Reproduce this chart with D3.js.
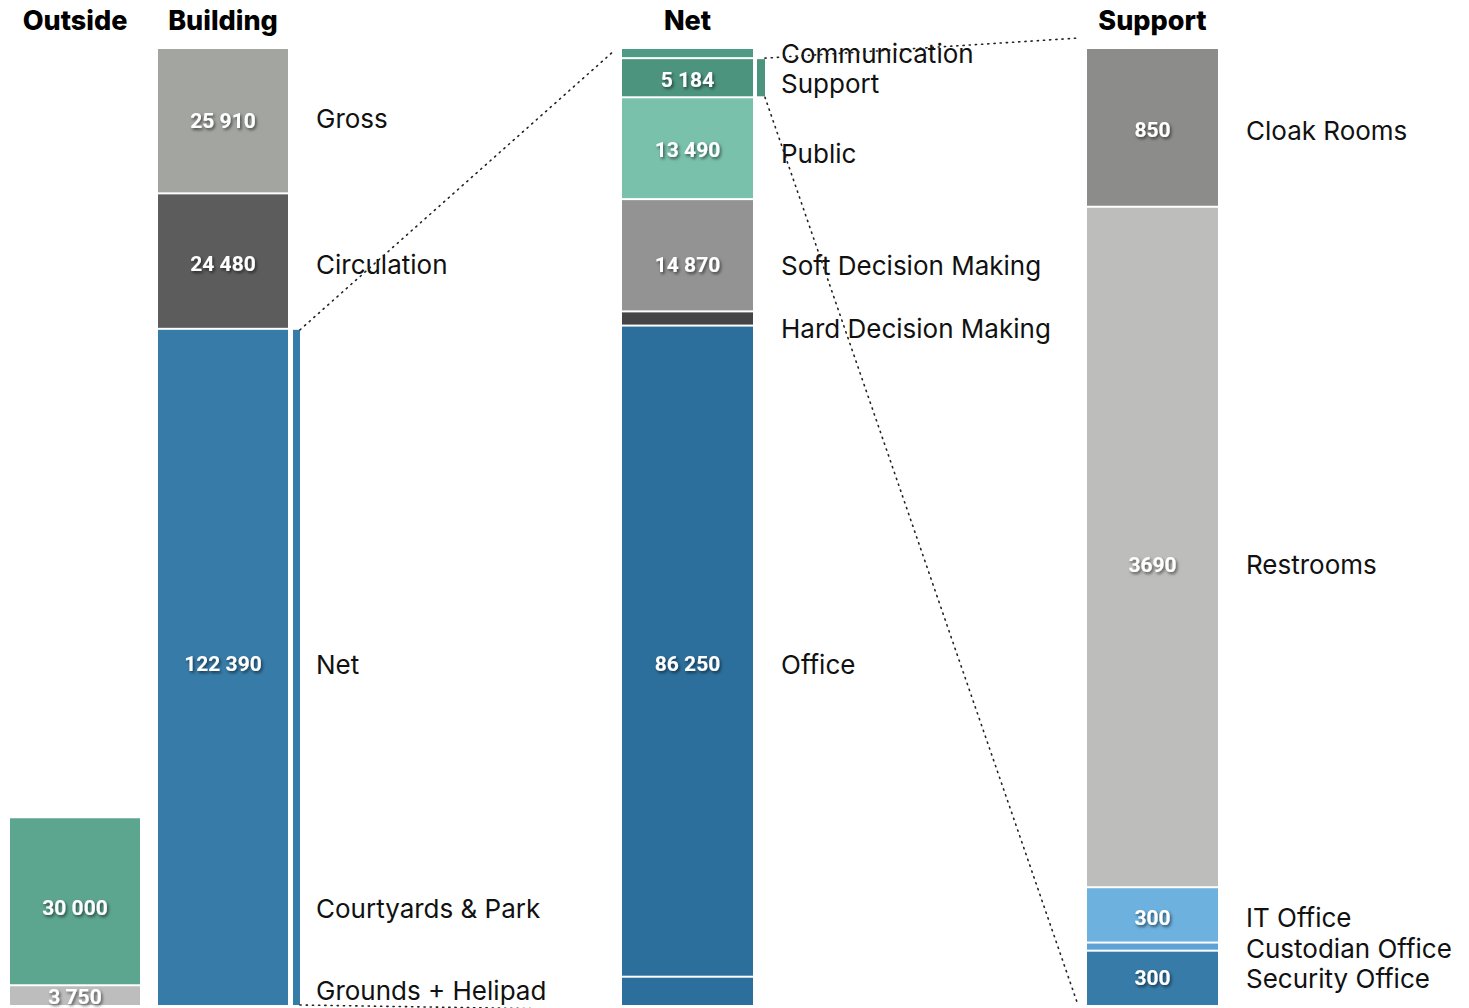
<!DOCTYPE html>
<html><head><meta charset="utf-8">
<script src="https://cdn.jsdelivr.net/npm/d3@7"></script>
<style>
html,body{margin:0;padding:0;background:#fff;}
svg{display:block;}
</style></head>
<body>
<svg id="chart" width="1469" height="1008"></svg>
<script>
// ---------- data ----------
const outsideCats   = ["Courtyards & Park", "Grounds + Helipad"];
const outsideVals   = [30000, 3750];
const outsideColors = ["#5ca58f", "#bdbdbd"];

const buildingCats   = ["Gross", "Circulation", "Net"];
const buildingVals   = [25910, 24480, 122390];
const buildingColors = ["#a3a5a1", "#5c5c5c", "#377ba8"];
const buildingShow   = [true, true, true];

const netCats   = ["Communication", "Support", "Public", "Soft Decision Making", "Hard Decision Making", "Office", "Other"];
const netVals   = [1080, 5184, 13490, 14870, 1880, 86250, 3880];
const netColors = ["#4f9a84", "#4c947e", "#79c1ab", "#939393", "#454545", "#2c6f9c", "#2c6f9c"];
const netShow   = [false, true, true, true, false, true, false];
const netLabelShow = [true, true, true, true, true, true, false];

const supportCats   = ["Cloak Rooms", "Restrooms", "IT Office", "Custodian Office", "Security Office"];
const supportVals   = [850, 3690, 300, 44, 300];
const supportColors = ["#8c8d8a", "#bdbebb", "#6db1df", "#5fa3d6", "#377ba8"];
const supportShow   = [true, true, true, false, true];

const headers = ["Outside", "Building", "Net", "Support"];

// ---------- layout ----------
const TOP = 49, BOTTOM = 1005;
// small vertical nudges (px) for label placement, keyed by category
const nudge = {
  "Gross": 0, "Circulation": 3, "Net": -3,
  "Courtyards & Park": 7, "Grounds + Helipad": 1,
  "Support": 2, "Public": 2, "Soft Decision Making": 10, "Hard Decision Making": 10, "Office": 13,
  "Cloak Rooms": 3, "Restrooms": 18, "IT Office": 3, "Custodian Office": 2, "Security Office": 0
};
const nameNudge = { "Support": 4, "Public": 3, "Gross": -2 };

const svg = d3.select("#chart");
const defs = svg.append("defs");
const f = defs.append("filter").attr("id","sh").attr("x","-20%").attr("y","-40%").attr("width","140%").attr("height","180%");
f.append("feDropShadow").attr("dx",1.5).attr("dy",2).attr("stdDeviation",1.4)
 .attr("flood-color","#000").attr("flood-opacity",0.55);

const fmtSpace = d3.formatLocale({decimal:".", thousands:" ", grouping:[3], currency:["",""]}).format(",d");
const fmtPlain = d3.format("d");

const buildingTotal = d3.sum(buildingVals);
const yB = d3.scaleLinear().domain([0, buildingTotal]).range([BOTTOM, TOP]);
const yN = d3.scaleLinear().domain([0, d3.sum(netVals)]).range([BOTTOM, TOP]);
const yS = d3.scaleLinear().domain([0, d3.sum(supportVals)]).range([BOTTOM, TOP]);

const labelFont = "Inter, 'Noto Sans', sans-serif";
const LABEL_SIZE = 26;

function stack(vals) {
  const total = d3.sum(vals);
  let acc = total;
  return vals.map(v => { const top = acc; acc -= v; return {top, bottom: acc, v}; });
}

function nameText(x, y, t) {
  svg.append("text").attr("x", x).attr("y", y)
    .attr("dominant-baseline", "central")
    .attr("font-family", labelFont).attr("font-size", LABEL_SIZE).attr("fill", "#111")
    .text(t);
}

function column(opts) {
  const {x, w, vals, colors, show, y, fmt, cats, labelX, labelShow, labelCats} = opts;
  const segs = stack(vals);
  const g = svg.append("g");
  segs.forEach((s, i) => {
    const yTop = y(s.top), yBot = y(s.bottom);
    const gapTop = i === 0 ? 0 : 2;
    g.append("rect").attr("x", x).attr("y", yTop + gapTop)
      .attr("width", w).attr("height", Math.max(0, yBot - yTop - gapTop))
      .attr("fill", colors[i]);
    const key = (labelCats || cats)[i];
    const cy = (yTop + gapTop + yBot) / 2 + (nudge[key] || 0);
    if (show[i]) {
      g.append("text").attr("x", x + w / 2).attr("y", cy)
        .attr("text-anchor", "middle").attr("dominant-baseline", "central")
        .attr("font-family", "Roboto, sans-serif").attr("font-weight", 700)
        .attr("font-size", 21).attr("fill", "#fff").attr("filter", "url(#sh)")
        .text(fmt(s.v));
    }
    if (cats && (!labelShow || labelShow[i])) {
      nameText(labelX, cy + (nameNudge[cats[i]] || 0), cats[i]);
    }
  });
  return segs;
}

// Outside column (shares building scale)
const outsideSegs = column({x: 10, w: 130, vals: outsideVals, colors: outsideColors, show: [true, true],
        y: yB, fmt: fmtSpace, labelCats: outsideCats});

// Building column
column({x: 158, w: 130, vals: buildingVals, colors: buildingColors, show: buildingShow,
        y: yB, fmt: fmtSpace, cats: buildingCats, labelX: 316});

// Outside names next to building (aligned to outside segments)
outsideSegs.forEach((s, i) => {
  const gapTop = i === 0 ? 0 : 2;
  const cy = (yB(s.top) + gapTop + yB(s.bottom)) / 2 + (nudge[outsideCats[i]] || 0);
  nameText(316, cy - (i === 1 ? 6 : 0), outsideCats[i]);
});

// Thin marker bar for building Net
const bNetTop = yB(buildingVals[2]);
svg.append("rect").attr("x", 293).attr("y", bNetTop + 2).attr("width", 7)
  .attr("height", BOTTOM - bNetTop - 2).attr("fill", buildingColors[2]);

// Net column
const netSegs = column({x: 622, w: 131, vals: netVals, colors: netColors, show: netShow,
        y: yN, fmt: fmtSpace, cats: netCats, labelX: 781, labelShow: netLabelShow});

// Support column
column({x: 1087, w: 131, vals: supportVals, colors: supportColors, show: supportShow,
        y: yS, fmt: fmtPlain, cats: supportCats, labelX: 1246});

// Thin marker bar for net Support
const sTop = yN(netSegs[1].top), sBot = yN(netSegs[1].bottom);
svg.append("rect").attr("x", 757).attr("y", sTop + 2).attr("width", 8)
  .attr("height", sBot - sTop - 2).attr("fill", netColors[1]);

// Headers
const headerX = [75, 223, 687.5, 1152.5];
headers.forEach((h, i) => {
  svg.append("text").attr("x", headerX[i]).attr("y", 30).attr("text-anchor", "middle")
    .attr("font-family", "Inter, 'Noto Sans', sans-serif").attr("font-weight", 800)
    .attr("font-size", 27).attr("fill", "#000").text(h);
});

// Dotted connector lines
function dotted(x1, y1, x2, y2) {
  svg.append("line").attr("x1", x1).attr("y1", y1).attr("x2", x2).attr("y2", y2)
    .attr("stroke", "#222").attr("stroke-width", 1.6)
    .attr("stroke-dasharray", "1.2,5").attr("stroke-linecap", "round");
}
dotted(300, bNetTop + 2, 615, TOP + 1);
dotted(300, BOTTOM, 620, BOTTOM + 5);
dotted(765, sTop + 1, 1079, 38);
dotted(765, sBot + 1, 1078, BOTTOM);
</script>
</body></html>
